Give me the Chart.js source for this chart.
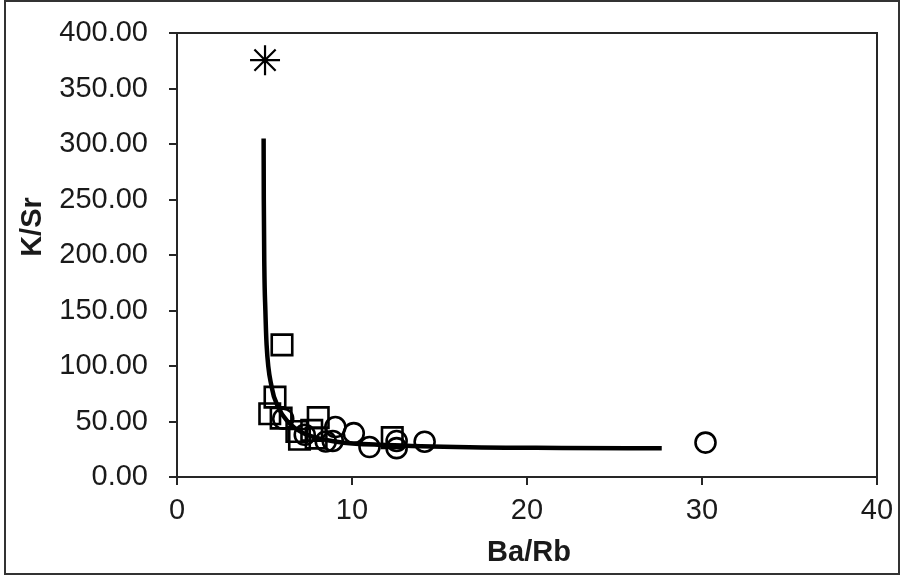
<!DOCTYPE html>
<html>
<head>
<meta charset="utf-8">
<script src="https://cdn.jsdelivr.net/npm/chart.js@4/dist/chart.umd.min.js"></script>
<style>
  html, body { margin: 0; padding: 0; background: #fff; }
  #wrap { position: absolute; left: 0; top: 0; width: 904px; height: 579px; }
</style>
</head>
<body>
<div id="wrap"><canvas id="c" width="904" height="579"></canvas></div>
<script>
// ---- data ----
const squareX = [6.0, 5.6, 5.3, 5.95, 8.07, 6.85, 7.7, 7.95, 12.3, 7.0];
const squareY = [119, 72, 57, 53, 53.5, 41, 42, 35, 35.5, 34];

const circleX = [6.07, 9.05, 10.1, 11.0, 12.55, 12.55, 14.15, 8.9, 8.5, 7.3, 30.2];
const circleY = [52.5, 45, 39.5, 27, 32.5, 26, 31.8, 32.5, 32, 38, 31];

const starX = [5.03];
const starY = [375.5];

const curveX = [4.95, 4.96, 4.99, 5.05, 5.12, 5.41, 5.78, 6.27, 7.2, 9.12, 12.0, 16.7, 22.0, 27.7];
const curveY = [305, 250, 190, 150, 119, 81, 63, 51, 39.6, 31.8, 28.8, 26.8, 26.2, 25.8];

const xTicks = [0, 10, 20, 30, 40];
const yTicks = [0, 50, 100, 150, 200, 250, 300, 350, 400];
const xTitle = 'Ba/Rb';
const yTitle = 'K/Sr';

const pts = (xs, ys) => xs.map((x, i) => ({ x: x, y: ys[i] }));

const FONT = '"Liberation Sans", Arial, sans-serif';
const INK = '#1a1a1a';

const framePlugin = {
  id: 'frame',
  beforeDraw(chart) {
    const ctx = chart.ctx;
    ctx.save();
    ctx.fillStyle = '#fff';
    ctx.fillRect(0, 0, chart.width, chart.height);
    ctx.restore();
  },
  afterDraw(chart) {
    const ctx = chart.ctx;
    const a = chart.chartArea;
    ctx.save();
    // outer border
    ctx.strokeStyle = '#333';
    ctx.lineWidth = 2;
    ctx.strokeRect(5, 1, 894, 573);
    // plot area box
    ctx.strokeStyle = '#262626';
    ctx.lineWidth = 2;
    ctx.strokeRect(a.left, a.top, a.right - a.left, a.bottom - a.top);
    // axis titles
    ctx.fillStyle = INK;
    ctx.font = 'bold 29px ' + FONT;
    ctx.textAlign = 'center';
    ctx.textBaseline = 'middle';
    ctx.fillText(xTitle, (a.left + a.right) / 2 + 2, a.bottom + 76);
    ctx.translate(33, a.top + (a.bottom - a.top) * 0.437);
    ctx.rotate(-Math.PI / 2);
    ctx.fillText(yTitle, 0, 0);
    ctx.restore();
  }
};

new Chart(document.getElementById('c'), {
  type: 'scatter',
  data: {
    datasets: [
      {
        label: 'curve',
        data: pts(curveX, curveY),
        showLine: true,
        borderColor: '#000',
        borderWidth: 4.5,
        pointRadius: 0,
        cubicInterpolationMode: 'monotone',
        fill: false,
        order: 0
      },
      {
        label: 'squares',
        data: pts(squareX, squareY),
        pointStyle: 'rect',
        pointRadius: 14.5,
        borderColor: '#000',
        backgroundColor: 'rgba(0,0,0,0)',
        borderWidth: 2.6,
        order: 1
      },
      {
        label: 'circles',
        data: pts(circleX, circleY),
        pointStyle: 'circle',
        pointRadius: 10,
        borderColor: '#000',
        backgroundColor: 'rgba(0,0,0,0)',
        borderWidth: 2.6,
        order: 2
      },
      {
        label: 'star',
        data: pts(starX, starY),
        pointStyle: 'star',
        pointRadius: 15,
        borderColor: '#000',
        backgroundColor: '#000',
        borderWidth: 2.2,
        order: 3
      }
    ]
  },
  options: {
    responsive: false,
    animation: false,
    events: [],
    layout: { padding: { left: 0, right: 27, top: 33, bottom: 0 } },
    plugins: { legend: { display: false }, tooltip: { enabled: false } },
    scales: {
      x: {
        type: 'linear',
        min: 0, max: 40,
        afterBuildTicks(s) { s.ticks = xTicks.map(v => ({ value: v })); },
        afterFit(s) { s.height = 102; s.paddingLeft = 0; s.paddingRight = 0; },
        grid: { display: true, drawOnChartArea: false, drawTicks: true, tickLength: 8, color: '#262626', lineWidth: 2 },
        border: { display: true, color: '#262626', width: 2 },
        ticks: {
          color: INK,
          font: { family: FONT, size: 29 },
          padding: 9,
          maxRotation: 0,
          callback: v => String(v)
        },
        title: { display: false }
      },
      y: {
        type: 'linear',
        min: 0, max: 400,
        afterBuildTicks(s) { s.ticks = yTicks.map(v => ({ value: v })); },
        afterFit(s) { s.width = 177; s.paddingTop = 0; s.paddingBottom = 0; },
        grid: { display: true, drawOnChartArea: false, drawTicks: true, tickLength: 8, color: '#262626', lineWidth: 2 },
        border: { display: true, color: '#262626', width: 2 },
        ticks: {
          color: INK,
          font: { family: FONT, size: 29 },
          padding: 21,
          callback: v => Number(v).toFixed(2)
        },
        title: { display: false }
      }
    }
  },
  plugins: [framePlugin]
});
</script>
</body>
</html>
